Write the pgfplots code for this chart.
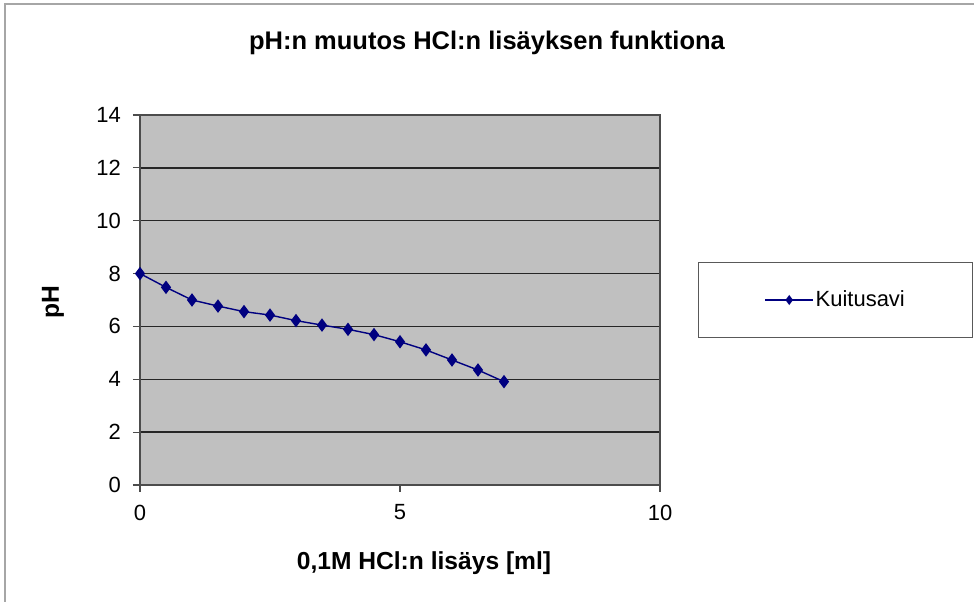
\documentclass[border=0pt]{standalone}
\usepackage{pgfplots}
\pgfplotsset{compat=1.18}
\usepackage{fontspec}
\setmainfont{Liberation Sans}
\definecolor{plotbg}{HTML}{C0C0C0}
\definecolor{serie}{HTML}{000080}
\begin{document}
\begin{tikzpicture}
\useasboundingbox (0,0) rectangle (194.8mm,120.4mm);
\draw[gray!70, line width=0.6pt] (1mm,-2mm) -- (1mm,119.6mm) -- (197mm,119.6mm);
\begin{axis}[
  at={(28mm,23.4mm)}, anchor=south west,
  scale only axis, width=104mm, height=74mm,
  xmin=0, xmax=10, ymin=0, ymax=14,
  xtick={0,5,10}, ytick={0,2,...,14},
  axis background/.style={fill=plotbg},
  ymajorgrids,
  major grid style={black!85, line width=0.8pt},
  axis line style={gray!60!black, line width=0.7pt},
  tick align=outside, tick pos=left,
  major tick length=1.4mm,
  tick style={gray!60!black, line width=0.6pt},
  /pgf/number format/assume math mode=true,
  ticklabel style={font=\fontsize{12.5}{14}\selectfont},
  yticklabel style={xshift=-1.2mm},
  xticklabel style={yshift=-1.3mm},
  legend style={at={(rel axis cs:1.0731,0.5)}, anchor=west,
    draw=gray!70!black, line width=0.6pt, fill=white,
    inner xsep=13.2mm, minimum height=13.6mm,
    nodes={inner xsep=1pt},
    font=\fontsize{12.5}{14}\selectfont},
  legend image code/.code={\draw[mark repeat=2,mark phase=2,mark size=2.2pt]
    plot coordinates {(0mm,0mm) (4.8mm,0mm) (9.6mm,0mm)};},
]
\addplot[color=serie, line width=0.8pt, mark=diamond*, mark size=3.2pt,
  mark options={fill=serie}] coordinates {
  (0,8.0) (0.5,7.48) (1,7.0) (1.5,6.77) (2,6.56) (2.5,6.43) (3,6.22)
  (3.5,6.05) (4,5.89) (4.5,5.69) (5,5.42) (5.5,5.11) (6,4.73)
  (6.5,4.35) (7,3.91)};
\addlegendentry{Kuitusavi}
\end{axis}
\node[font=\bfseries\fontsize{14.5}{17}\selectfont] at (97.4mm,111.8mm) {pH:n muutos HCl:n lisäyksen funktiona};
\node[font=\bfseries\fontsize{14}{17}\selectfont] at (84.8mm,7.8mm) {0,1M HCl:n lisäys [ml]};
\node[font=\bfseries\fontsize{14}{17}\selectfont, rotate=90] at (10.6mm,60mm) {pH};
\end{tikzpicture}
\end{document}
